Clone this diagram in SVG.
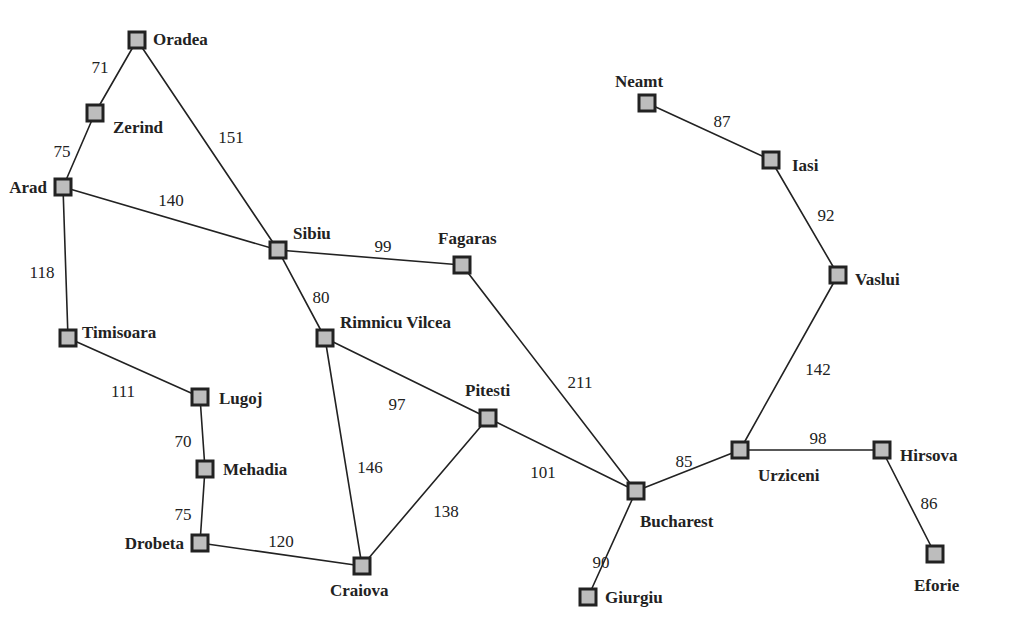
<svg xmlns="http://www.w3.org/2000/svg" width="1024" height="625" viewBox="0 0 1024 625">
<style>
.e{stroke:#222;stroke-width:1.6;fill:none}
.n rect{fill:#bdbdbd;stroke:#222;stroke-width:3}
.n text{font-family:"Liberation Serif",serif;font-weight:bold;font-size:17px;fill:#222}
.w{font-family:"Liberation Serif",serif;font-size:17px;fill:#222;text-anchor:middle}
</style>
<rect width="1024" height="625" fill="#fff"/>
<g id="connectors">
<path class="e" d="M137,40L95,113M95,113L63,187M137,40L278,250M63,187L278,250M63,187L68,338M68,338L200,397M200,397L205,469M205,469L200,543M200,543L362,566M278,250L462,265M278,250L325,338M325,338L362,566M325,338L488,418M488,418L362,566M488,418L636,491M462,265L636,491M636,491L588,597M636,491L740,450M740,450L882,450M882,450L935,554M740,450L838,275M838,275L771,160M771,160L647,103"/>
<text class="w" x="100" y="73">71</text><text class="w" x="62" y="157">75</text>
<text class="w" x="231" y="143">151</text><text class="w" x="171" y="206">140</text>
<text class="w" x="42" y="278">118</text><text class="w" x="123" y="397">111</text>
<text class="w" x="183" y="447">70</text><text class="w" x="183" y="520">75</text>
<text class="w" x="281" y="547">120</text><text class="w" x="383" y="252">99</text>
<text class="w" x="321" y="303">80</text><text class="w" x="370" y="473">146</text>
<text class="w" x="397" y="410">97</text><text class="w" x="446" y="517">138</text>
<text class="w" x="543" y="478">101</text><text class="w" x="580" y="388">211</text>
<text class="w" x="684" y="467">85</text><text class="w" x="601" y="568">90</text>
<text class="w" x="818" y="444">98</text><text class="w" x="818" y="375">142</text>
<text class="w" x="826" y="221">92</text><text class="w" x="722" y="127">87</text>
<text class="w" x="929" y="509">86</text>
</g>
<g id="oradea" class="n"><rect x="129" y="32" width="16" height="16"/><text x="153" y="45">Oradea</text></g>
<g id="zerind" class="n"><rect x="87" y="105" width="16" height="16"/><text x="113" y="133">Zerind</text></g>
<g id="arad" class="n"><rect x="55" y="179" width="16" height="16"/><text x="47" y="193" text-anchor="end">Arad</text></g>
<g id="timisoara" class="n"><rect x="60" y="330" width="16" height="16"/><text x="82" y="338">Timisoara</text></g>
<g id="lugoj" class="n"><rect x="192" y="389" width="16" height="16"/><text x="219" y="404">Lugoj</text></g>
<g id="mehadia" class="n"><rect x="197" y="461" width="16" height="16"/><text x="223" y="475">Mehadia</text></g>
<g id="drobeta" class="n"><rect x="192" y="535" width="16" height="16"/><text x="184" y="549" text-anchor="end">Drobeta</text></g>
<g id="craiova" class="n"><rect x="354" y="558" width="16" height="16"/><text x="330" y="596">Craiova</text></g>
<g id="sibiu" class="n"><rect x="270" y="242" width="16" height="16"/><text x="293" y="239">Sibiu</text></g>
<g id="rimnicu" class="n"><rect x="317" y="330" width="16" height="16"/><text x="340" y="328">Rimnicu Vilcea</text></g>
<g id="fagaras" class="n"><rect x="454" y="257" width="16" height="16"/><text x="438" y="244">Fagaras</text></g>
<g id="pitesti" class="n"><rect x="480" y="410" width="16" height="16"/><text x="465" y="396">Pitesti</text></g>
<g id="bucharest" class="n"><rect x="628" y="483" width="16" height="16"/><text x="640" y="527">Bucharest</text></g>
<g id="giurgiu" class="n"><rect x="580" y="589" width="16" height="16"/><text x="605" y="603">Giurgiu</text></g>
<g id="urziceni" class="n"><rect x="732" y="442" width="16" height="16"/><text x="758" y="481">Urziceni</text></g>
<g id="hirsova" class="n"><rect x="874" y="442" width="16" height="16"/><text x="900" y="461">Hirsova</text></g>
<g id="eforie" class="n"><rect x="927" y="546" width="16" height="16"/><text x="914" y="591">Eforie</text></g>
<g id="vaslui" class="n"><rect x="830" y="267" width="16" height="16"/><text x="855" y="285">Vaslui</text></g>
<g id="iasi" class="n"><rect x="763" y="152" width="16" height="16"/><text x="792" y="171">Iasi</text></g>
<g id="neamt" class="n"><rect x="639" y="95" width="16" height="16"/><text x="615" y="87">Neamt</text></g>
</svg>
